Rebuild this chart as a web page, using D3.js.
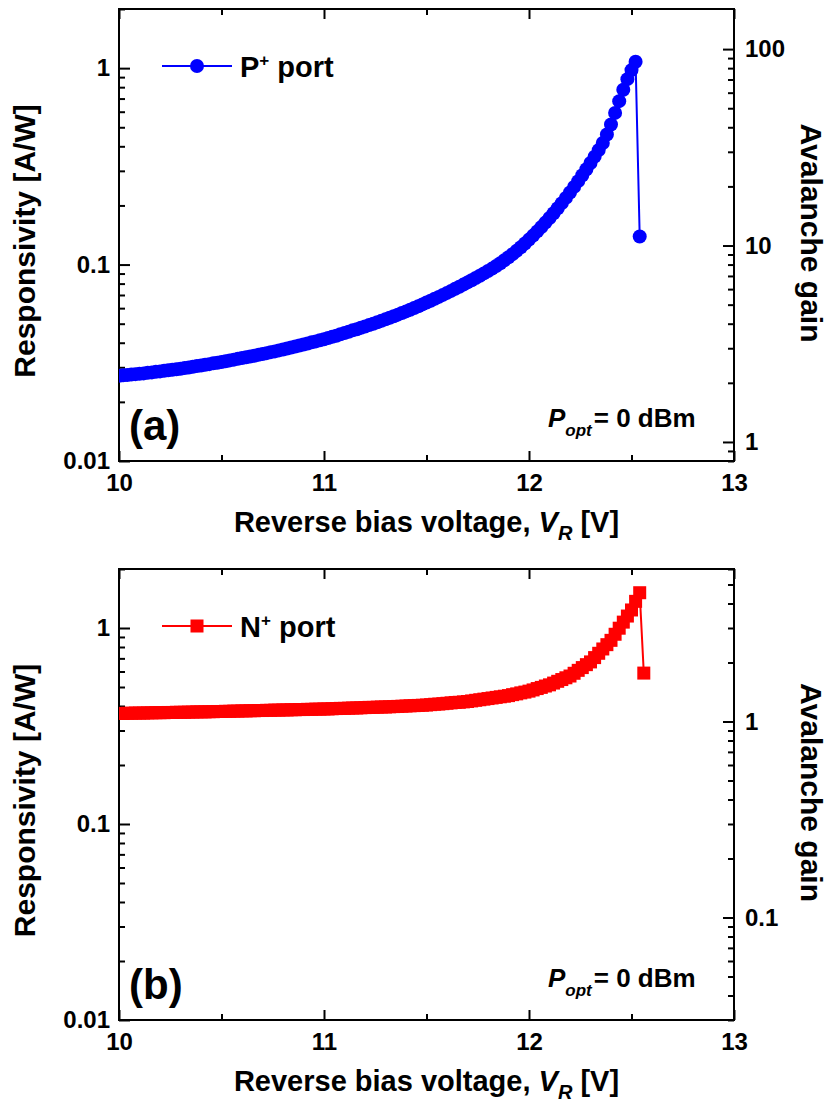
<!DOCTYPE html>
<html>
<head>
<meta charset="utf-8">
<script src="https://cdn.jsdelivr.net/npm/d3@7"></script>
<style>
  body { margin: 0; background: #fff; }
  svg text { font-family: "Liberation Sans", Arial, sans-serif; font-weight: bold; fill: #000; }
</style>
</head>
<body>
<svg id="chart" width="828" height="1106"></svg>
<script>
// reverse bias voltage [V], shared by both ports (P+ stops one step earlier)
const biasVoltage = [
  10.00, 10.02, 10.04, 10.06, 10.08, 10.10, 10.12, 10.14, 10.16, 10.18,
  10.20, 10.22, 10.24, 10.26, 10.28, 10.30, 10.32, 10.34, 10.36, 10.38,
  10.40, 10.42, 10.44, 10.46, 10.48, 10.50, 10.52, 10.54, 10.56, 10.58,
  10.60, 10.62, 10.64, 10.66, 10.68, 10.70, 10.72, 10.74, 10.76, 10.78,
  10.80, 10.82, 10.84, 10.86, 10.88, 10.90, 10.92, 10.94, 10.96, 10.98,
  11.00, 11.02, 11.04, 11.06, 11.08, 11.10, 11.12, 11.14, 11.16, 11.18,
  11.20, 11.22, 11.24, 11.26, 11.28, 11.30, 11.32, 11.34, 11.36, 11.38,
  11.40, 11.42, 11.44, 11.46, 11.48, 11.50, 11.52, 11.54, 11.56, 11.58,
  11.60, 11.62, 11.64, 11.66, 11.68, 11.70, 11.72, 11.74, 11.76, 11.78,
  11.80, 11.82, 11.84, 11.86, 11.88, 11.90, 11.92, 11.94, 11.96, 11.98,
  12.00, 12.02, 12.04, 12.06, 12.08, 12.10, 12.12, 12.14, 12.16, 12.18,
  12.20, 12.22, 12.24, 12.26, 12.28, 12.30, 12.32, 12.34, 12.36, 12.38,
  12.40, 12.42, 12.44, 12.46, 12.48, 12.50, 12.52, 12.54, 12.56
];

// responsivity [A/W], P+ port
const pPortResp = [
  0.02716, 0.02729, 0.02742, 0.02754, 0.02767, 0.02780, 0.02793, 0.02812, 0.02825, 0.02844,
  0.02858, 0.02877, 0.02897, 0.02911, 0.02931, 0.02951, 0.02972, 0.02992, 0.03020, 0.03041,
  0.03062, 0.03090, 0.03112, 0.03141, 0.03162, 0.03192, 0.03221, 0.03251, 0.03281, 0.03311,
  0.03342, 0.03373, 0.03404, 0.03436, 0.03475, 0.03508, 0.03540, 0.03581, 0.03614, 0.03656,
  0.03698, 0.03741, 0.03784, 0.03828, 0.03873, 0.03917, 0.03963, 0.04018, 0.04064, 0.04121,
  0.04169, 0.04227, 0.04285, 0.04345, 0.04416, 0.04477, 0.04550, 0.04624, 0.04688, 0.04764,
  0.04842, 0.04919, 0.05000, 0.05084, 0.05171, 0.05263, 0.05358, 0.05456, 0.05559, 0.05666,
  0.05777, 0.05892, 0.06013, 0.06139, 0.06269, 0.06405, 0.06546, 0.06694, 0.06847, 0.07007,
  0.07173, 0.07345, 0.07525, 0.07712, 0.07909, 0.08112, 0.08323, 0.08544, 0.08776, 0.09016,
  0.09266, 0.09536, 0.09831, 0.1015, 0.1051, 0.1089, 0.1130, 0.1176, 0.1226, 0.1281,
  0.1340, 0.1404, 0.1475, 0.1551, 0.1635, 0.1726, 0.1826, 0.1934, 0.2054, 0.2185,
  0.2328, 0.2485, 0.2658, 0.2848, 0.3058, 0.3289, 0.3543, 0.3825, 0.4159, 0.4592,
  0.5164, 0.5916, 0.6792, 0.7762, 0.8790, 0.9772, 1.077, 0.1390
];

// responsivity [A/W], N+ port
const nPortResp = [
  0.3664, 0.3664, 0.3673, 0.3673, 0.3681, 0.3681, 0.3681, 0.3690, 0.3690, 0.3698,
  0.3698, 0.3698, 0.3707, 0.3707, 0.3715, 0.3715, 0.3715, 0.3724, 0.3724, 0.3733,
  0.3733, 0.3733, 0.3741, 0.3741, 0.3750, 0.3750, 0.3758, 0.3758, 0.3767, 0.3767,
  0.3776, 0.3776, 0.3784, 0.3784, 0.3793, 0.3793, 0.3802, 0.3802, 0.3811, 0.3811,
  0.3819, 0.3819, 0.3828, 0.3828, 0.3837, 0.3837, 0.3846, 0.3846, 0.3855, 0.3855,
  0.3864, 0.3864, 0.3873, 0.3882, 0.3890, 0.3890, 0.3899, 0.3908, 0.3908, 0.3917,
  0.3926, 0.3936, 0.3936, 0.3945, 0.3954, 0.3954, 0.3963, 0.3972, 0.3981, 0.3990,
  0.3999, 0.4009, 0.4018, 0.4027, 0.4036, 0.4046, 0.4064, 0.4083, 0.4093, 0.4111,
  0.4130, 0.4150, 0.4169, 0.4178, 0.4198, 0.4217, 0.4246, 0.4276, 0.4305, 0.4335,
  0.4365, 0.4395, 0.4426, 0.4457, 0.4487, 0.4519, 0.4571, 0.4613, 0.4667, 0.4710,
  0.4764, 0.4831, 0.4909, 0.4977, 0.5058, 0.5129, 0.5236, 0.5346, 0.5458, 0.5572,
  0.5689, 0.5875, 0.6081, 0.6281, 0.6501, 0.6714, 0.7063, 0.7430, 0.7816, 0.8222,
  0.8650, 0.9290, 0.9977, 1.0715, 1.1508, 1.2359, 1.3677, 1.5136, 0.5888
];

const xDomain = [10, 13];
const xTicks = [10, 11, 12, 13];
const xMinorTicks = [10.5, 11.5, 12.5];
const respDomain = [0.01, 2];
const respTicks = [0.01, 0.1, 1];
const gainDomainP = [0.8, 160];
const gainTicksP = [1, 10, 100];
const gainDomainN = [0.03, 6];
const gainTicksN = [0.1, 1];

const plotLeft = 119;
const plotRight = 734;
const fmt = d3.format('~g');

const svg = d3.select('#chart');
const x = d3.scaleLinear().domain(xDomain).range([plotLeft, plotRight]);

function styleAxis(g, size) {
  g.attr('font-size', size)
    .attr('font-family', '"Liberation Sans", Arial, sans-serif')
    .attr('font-weight', 'bold');
  g.select('.domain').remove();
  g.selectAll('.tick line').attr('stroke-width', 2);
}

function drawPanel(cfg) {
  const top = cfg.top;
  const bottom = cfg.bottom;
  const midY = (top + bottom) / 2;
  const y = d3.scaleLog().domain(respDomain).range([bottom, top]);
  const gain = d3.scaleLog().domain(cfg.gainDomain).range([bottom, top]);

  const g = svg.append('g');

  // x axes (bottom with labels, top without)
  g.append('g')
    .attr('transform', `translate(0,${bottom})`)
    .call(d3.axisBottom(x).tickValues(xTicks).tickSize(-10).tickPadding(13).tickFormat(fmt))
    .call(a => styleAxis(a, 24));
  g.append('g')
    .attr('transform', `translate(0,${bottom})`)
    .call(d3.axisBottom(x).tickValues(xMinorTicks).tickSize(-6).tickFormat(''))
    .call(a => styleAxis(a, 24));
  g.append('g')
    .attr('transform', `translate(0,${top})`)
    .call(d3.axisTop(x).tickValues(xTicks).tickSize(-10).tickFormat(''))
    .call(a => styleAxis(a, 24));
  g.append('g')
    .attr('transform', `translate(0,${top})`)
    .call(d3.axisTop(x).tickValues(xMinorTicks).tickSize(-6).tickFormat(''))
    .call(a => styleAxis(a, 24));

  // left responsivity axis
  const respMinor = y.ticks().filter(t => !respTicks.some(m => Math.abs(m - t) < 1e-9));
  g.append('g')
    .attr('transform', `translate(${plotLeft},0)`)
    .call(d3.axisLeft(y).tickValues(respTicks).tickSize(-11).tickPadding(9).tickFormat(fmt))
    .call(a => styleAxis(a, 24));
  g.append('g')
    .attr('transform', `translate(${plotLeft},0)`)
    .call(d3.axisLeft(y).tickValues(respMinor).tickSize(-6).tickFormat(''))
    .call(a => styleAxis(a, 24));

  // right avalanche gain axis
  const gainMinor = gain.ticks().filter(t => !cfg.gainTicks.some(m => Math.abs(m - t) < 1e-9));
  g.append('g')
    .attr('transform', `translate(${plotRight},0)`)
    .call(d3.axisRight(gain).tickValues(cfg.gainTicks).tickSize(-11).tickPadding(11).tickFormat(fmt))
    .call(a => styleAxis(a, 24));
  g.append('g')
    .attr('transform', `translate(${plotRight},0)`)
    .call(d3.axisRight(gain).tickValues(gainMinor).tickSize(-6).tickFormat(''))
    .call(a => styleAxis(a, 24));

  // frame
  g.append('rect')
    .attr('x', plotLeft).attr('y', top)
    .attr('width', plotRight - plotLeft).attr('height', bottom - top)
    .attr('fill', 'none').attr('stroke', '#000').attr('stroke-width', 2);

  // data
  const clipId = 'clip-' + cfg.tag;
  g.append('clipPath').attr('id', clipId)
    .append('rect')
    .attr('x', plotLeft).attr('y', top)
    .attr('width', plotRight - plotLeft).attr('height', bottom - top);

  const points = cfg.resp.map((r, i) => ({ v: biasVoltage[i], r: r }));
  const plot = g.append('g').attr('clip-path', `url(#${clipId})`);

  plot.append('path')
    .datum(points)
    .attr('fill', 'none')
    .attr('stroke', cfg.color)
    .attr('stroke-width', 2)
    .attr('d', d3.line().x(d => x(d.v)).y(d => y(d.r)));

  if (cfg.marker === 'circle') {
    plot.selectAll('circle.pt')
      .data(points)
      .join('circle')
        .attr('class', 'pt')
        .attr('cx', d => x(d.v))
        .attr('cy', d => y(d.r))
        .attr('r', 7)
        .attr('fill', cfg.color);
  } else {
    plot.selectAll('rect.pt')
      .data(points)
      .join('rect')
        .attr('class', 'pt')
        .attr('x', d => x(d.v) - 6.5)
        .attr('y', d => y(d.r) - 6.5)
        .attr('width', 13)
        .attr('height', 13)
        .attr('fill', cfg.color);
  }

  // legend
  const ly = top + 57;
  g.append('line')
    .attr('x1', 162).attr('x2', 232).attr('y1', ly).attr('y2', ly)
    .attr('stroke', cfg.color).attr('stroke-width', 2);
  if (cfg.marker === 'circle') {
    g.append('circle').attr('cx', 197).attr('cy', ly).attr('r', 7).attr('fill', cfg.color);
  } else {
    g.append('rect').attr('x', 190.5).attr('y', ly - 6.5)
      .attr('width', 13).attr('height', 13).attr('fill', cfg.color);
  }
  const lt = g.append('text')
    .attr('x', 240).attr('y', top + 67.5)
    .attr('font-size', 29);
  lt.append('tspan').text(cfg.portLetter);
  lt.append('tspan').attr('font-size', 17).attr('dy', -11).text('+');
  lt.append('tspan').attr('dy', 11).text(' port');

  // panel tag
  g.append('text')
    .attr('x', 129).attr('y', bottom - 21)
    .attr('font-size', 42)
    .text(`(${cfg.tag})`);

  // optical power note
  const pt = g.append('text')
    .attr('x', 548).attr('y', top + 418)
    .attr('font-size', 26);
  pt.append('tspan').attr('font-style', 'italic').text('P');
  pt.append('tspan').attr('font-style', 'italic').attr('font-size', 17).attr('dy', 9).text('opt');
  pt.append('tspan').attr('dy', -9).attr('dx', 2).text('= 0 dBm');

  // x title
  const xt = g.append('text')
    .attr('x', (plotLeft + plotRight) / 2).attr('y', bottom + 71)
    .attr('text-anchor', 'middle')
    .attr('font-size', 29);
  xt.append('tspan').text('Reverse bias voltage, ');
  xt.append('tspan').attr('font-style', 'italic').text('V');
  xt.append('tspan').attr('font-style', 'italic').attr('font-size', 20).attr('dy', 8).text('R');
  xt.append('tspan').attr('dy', -8).text(' [V]');

  // y titles
  g.append('text')
    .attr('transform', `translate(34.5,${midY + 6}) rotate(-90)`)
    .attr('text-anchor', 'middle')
    .attr('font-size', 30)
    .text('Responsivity [A/W]');
  g.append('text')
    .attr('transform', `translate(801,${midY - 2}) rotate(90)`)
    .attr('text-anchor', 'middle')
    .attr('font-size', 30)
    .text('Avalanche gain');
}

drawPanel({
  tag: 'a', top: 9, bottom: 461,
  resp: pPortResp, color: '#0000ff', marker: 'circle', portLetter: 'P',
  gainDomain: gainDomainP, gainTicks: gainTicksP
});

drawPanel({
  tag: 'b', top: 569, bottom: 1020,
  resp: nPortResp, color: '#ff0000', marker: 'square', portLetter: 'N',
  gainDomain: gainDomainN, gainTicks: gainTicksN
});
</script>
</body>
</html>
